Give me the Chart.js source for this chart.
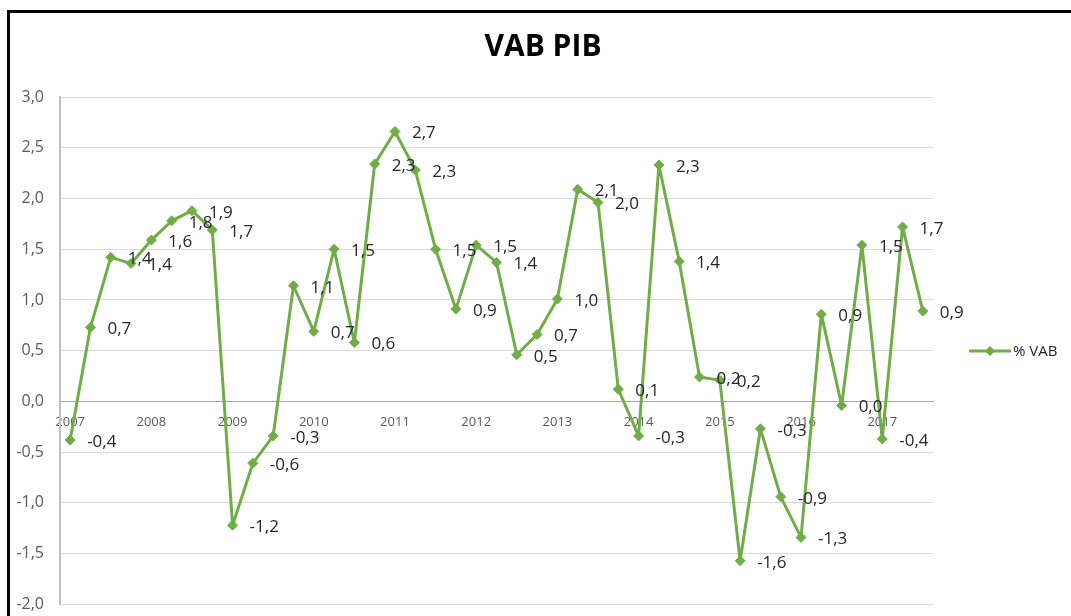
<!DOCTYPE html>
<html>
<head>
<meta charset="utf-8">
<script src="https://cdn.jsdelivr.net/npm/chart.js@4.4.0/dist/chart.umd.min.js"></script>
<style>
    html, body { margin: 0; padding: 0; background: #fff; }
    #wrap { position: relative; width: 1071px; height: 616px; overflow: hidden; }
    #frame { position: absolute; left: 7px; top: 10px; width: 1100px; height: 650px; border-top: 3px solid #000; border-left: 3px solid #000; pointer-events: none; }
    canvas { position: absolute; left: 0; top: 0; }
</style>
</head>
<body>
<div id="wrap">
    <canvas id="vabChart" width="1071" height="630"></canvas>
    <div id="frame"></div>
</div>
<script>
// --- 데이터 ---
const years = ['2007', '2008', '2009', '2010', '2011', '2012', '2013', '2014', '2015', '2016', '2017'];
const quarters = ['T1', 'T2', 'T3', 'T4'];
const vabValues = [
    -0.38, 0.73, 1.42, 1.36,
    1.59, 1.78, 1.88, 1.69,
    -1.22, -0.61, -0.34, 1.14,
    0.69, 1.50, 0.58, 2.34,
    2.66, 2.28, 1.50, 0.91,
    1.54, 1.37, 0.46, 0.66,
    1.01, 2.09, 1.96, 0.12,
    -0.34, 2.33, 1.38, 0.24,
    0.21, -1.57, -0.27, -0.94,
    -1.34, 0.86, -0.04, 1.54,
    -0.37, 1.72, 0.89
];
const seriesLabel = '% VAB';
const chartTitle = 'VAB PIB';

const green = '#70AD47';
const labels = vabValues.map((v, i) => years[Math.floor(i / 4)] + ' ' + quarters[i % 4]);

function fmt(v) {
    const r = Math.round(v * 10) / 10;
    if (Math.abs(r) < 0.05) return '0,0';
    return r.toFixed(1).replace('.', ',');
}

// 제목, 데이터 라벨, 범례를 직접 그림
const extrasPlugin = {
    id: 'extras',
    afterDraw(chart) {
        const ctx = chart.ctx;
        ctx.save();
        // 제목
        ctx.fillStyle = '#000';
        ctx.font = 'bold 30px "Open Sans"';
        ctx.textAlign = 'center';
        ctx.textBaseline = 'middle';
        ctx.fillText(chartTitle, 543, 47);

        // 데이터 라벨
        const meta = chart.getDatasetMeta(0);
        ctx.font = '17px "Open Sans"';
        ctx.fillStyle = '#262626';
        ctx.textAlign = 'left';
        meta.data.forEach((pt, i) => {
            ctx.fillText(fmt(vabValues[i]), pt.x + 17, pt.y + 2);
        });

        // 범례
        const ly = 351;
        ctx.strokeStyle = green;
        ctx.lineWidth = 3;
        ctx.beginPath();
        ctx.moveTo(969, ly);
        ctx.lineTo(1011, ly);
        ctx.stroke();
        ctx.fillStyle = green;
        ctx.beginPath();
        ctx.moveTo(990, ly - 5);
        ctx.lineTo(995, ly);
        ctx.lineTo(990, ly + 5);
        ctx.lineTo(985, ly);
        ctx.closePath();
        ctx.fill();
        ctx.fillStyle = '#262626';
        ctx.font = '15px "Open Sans"';
        ctx.fillText(seriesLabel, 1013, ly + 1);
        ctx.restore();
    }
};

const ctx = document.getElementById('vabChart').getContext('2d');
new Chart(ctx, {
    type: 'line',
    data: {
        labels: labels,
        datasets: [{
            label: seriesLabel,
            data: vabValues,
            borderColor: green,
            backgroundColor: green,
            borderWidth: 3,
            borderJoinStyle: 'round',
            tension: 0,
            pointStyle: 'rectRot',
            pointRadius: 5,
            pointBorderWidth: 1,
            pointBackgroundColor: green,
            pointBorderColor: green
        }]
    },
    options: {
        responsive: false,
        animation: false,
        devicePixelRatio: 1,
        layout: { padding: { left: 0, right: 138, top: 97, bottom: 12 } },
        plugins: {
            legend: { display: false },
            title: { display: false },
            tooltip: { enabled: false }
        },
        scales: {
            x: {
                type: 'category',
                position: { y: 0 },
                offset: true,
                grid: { display: false, drawTicks: false },
                border: { display: true, color: '#a6a6a6', width: 1 },
                ticks: {
                    autoSkip: false,
                    maxRotation: 0,
                    padding: 13,
                    color: '#595959',
                    font: { family: 'Open Sans', size: 13 },
                    callback: (val, i) => (i % 4 === 0 ? years[i / 4] : '')
                }
            },
            y: {
                min: -2,
                max: 3,
                afterFit: scale => { scale.width = 60; },
                grid: { color: '#d9d9d9', drawTicks: false },
                border: { display: true, color: '#bfbfbf', width: 2 },
                ticks: {
                    stepSize: 0.5,
                    padding: 16,
                    color: '#595969',
                    font: { family: 'Open Sans', size: 16 },
                    callback: v => v.toFixed(1).replace('.', ',')
                }
            }
        }
    },
    plugins: [extrasPlugin]
});
</script>
</body>
</html>
